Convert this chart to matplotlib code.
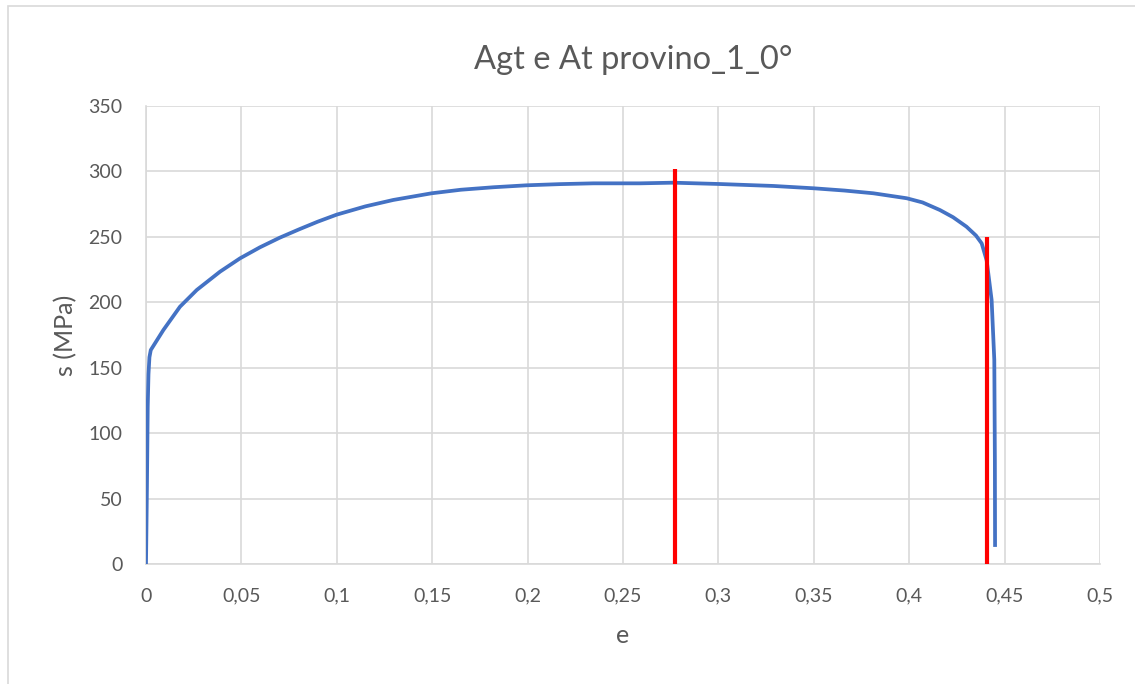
import matplotlib.pyplot as plt
from matplotlib.patches import Rectangle
from matplotlib.ticker import FuncFormatter

# strain / stress of the tensile test (provino 1, 0°)
strain = [0.0, 0.0005, 0.0009, 0.0013, 0.0018, 0.0025, 0.0091, 0.0178, 0.0266,
          0.0388, 0.0493, 0.0597, 0.07, 0.08, 0.09, 0.1, 0.115, 0.1296, 0.1497,
          0.165, 0.182, 0.1995, 0.217, 0.2345, 0.2589, 0.2764, 0.3003, 0.3288,
          0.3501, 0.366, 0.3812, 0.3987, 0.407, 0.4161, 0.423, 0.430, 0.435,
          0.438, 0.4406, 0.4432, 0.4446, 0.4449, 0.445]
stress = [0.0, 60.0, 120.0, 145.0, 158.0, 163.5, 178.8, 196.6, 209.4,
          223.4, 233.6, 242.0, 249.3, 255.6, 261.6, 267.0, 273.3, 278.2, 283.3,
          286.0, 287.9, 289.4, 290.3, 290.9, 290.9, 291.4, 290.4, 288.9,
          287.1, 285.4, 283.3, 279.5, 276.3, 270.5, 265.0, 257.8, 251.0,
          245.0, 232.0, 201.7, 156.0, 80.0, 14.5]

# Agt and At markers
agt_x, agt_top = 0.2775, 302
at_x, at_top = 0.4409, 250

xticks = [0, 0.05, 0.1, 0.15, 0.2, 0.25, 0.3, 0.35, 0.4, 0.45, 0.5]
yticks = [0, 50, 100, 150, 200, 250, 300, 350]

plt.rcParams['font.family'] = ['Lato', 'DejaVu Sans']
txt = '#595959'
grid = '#d9d9d9'

fig = plt.figure(figsize=(11.35, 6.84), dpi=100)
ax = fig.add_axes([146 / 1135, 1 - 564 / 684, (1100 - 146) / 1135, (564 - 106) / 684])

ax.plot(strain, stress, color='#4472C4', lw=2.7, solid_joinstyle='round', zorder=3)
ax.vlines([agt_x, at_x], 0, [agt_top, at_top], color='#FF0000', lw=3.0, zorder=4)

ax.set_xlim(0, 0.5)
ax.set_ylim(0, 350)
ax.set_xticks(xticks)
ax.set_yticks(yticks)
ax.xaxis.set_major_formatter(FuncFormatter(lambda v, p: ('%g' % v).replace('.', ',')))
ax.grid(True, color=grid, lw=1.2, zorder=0)
ax.tick_params(length=0, labelsize=14, labelcolor=txt, pad=17)
for side in ['top', 'right']:
    ax.spines[side].set_visible(False)
for side in ['left', 'bottom']:
    ax.spines[side].set_color(grid)
    ax.spines[side].set_linewidth(1.2)

ax.set_xlabel('e', fontsize=18, color=txt, labelpad=14)
ax.set_ylabel('s (MPa)', fontsize=18, color=txt, labelpad=8)
fig.text(633 / 1135, 1 - 60 / 684, 'Agt e At provino_1_0°', ha='center', va='center',
         fontsize=23.5, color=txt)

# chart frame
fig.patches.append(Rectangle((8 / 1135, -0.05), 1.1, 1 - 6 / 684 + 0.05,
                             transform=fig.transFigure, fill=False,
                             edgecolor='#d9d9d9', lw=1.2))

fig.savefig('out.png', dpi=100)
